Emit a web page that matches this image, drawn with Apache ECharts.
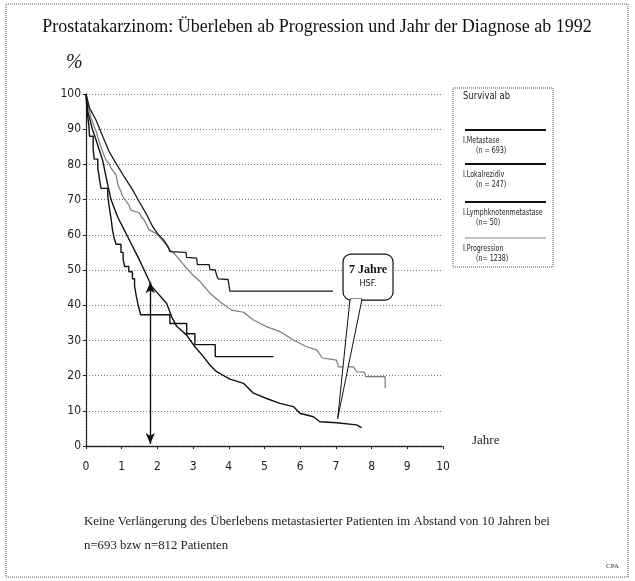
<!DOCTYPE html>
<html lang="de">
<head>
<meta charset="utf-8">
<title>Prostatakarzinom – Überleben ab Progression</title>
<script src="https://cdn.jsdelivr.net/npm/echarts@6/dist/echarts.min.js"></script>
<style>
  html, body { margin: 0; padding: 0; background: #fff; }
  #main { width: 635px; height: 581px; }
</style>
</head>
<body>
<div id="main"></div>
<script>
// Achsen
var yearTicks = [0, 1, 2, 3, 4, 5, 6, 7, 8, 9, 10];
var percentTicks = [0, 10, 20, 30, 40, 50, 60, 70, 80, 90, 100];

// Kurven [Jahre, Überleben %]
var metastaseData = [
  [0, 100], [0.05, 95], [0.18, 90], [0.28, 87], [0.47, 81], [0.56, 76.5], [0.7, 70],
  [0.89, 65], [1.07, 61.4], [1.26, 57.6], [1.45, 53.8], [1.63, 50], [1.72, 48],
  [1.84, 45.3], [2.0, 43.5], [2.26, 40.5], [2.4, 36.7], [2.54, 34], [2.82, 31.5],
  [3.05, 28.2], [3.29, 25.4], [3.47, 23], [3.66, 21.1], [3.75, 20.6], [4.03, 19],
  [4.13, 18.7], [4.41, 17.8], [4.69, 15], [5.06, 13.5], [5.43, 12.1], [5.81, 11.2],
  [5.99, 9.3], [6.37, 8.3], [6.55, 6.9], [7.02, 6.6], [7.58, 6.0], [7.72, 5.2]
];
var lokalrezidivData = [
  [0, 100], [0.1, 96], [0.28, 92.6], [0.47, 87.9], [0.65, 83.6], [0.84, 80.3],
  [1.07, 76.5], [1.31, 72.7], [1.49, 69.4], [1.68, 66.1], [1.87, 62.3], [2.0, 60.4],
  [2.18, 58.5], [2.3, 56.6], [2.35, 55.2], [2.8, 55], [2.82, 53.6], [3.1, 53.4],
  [3.12, 51.5], [3.45, 51.5], [3.47, 50.2], [3.62, 50], [3.66, 48.5], [3.7, 47.5],
  [3.98, 47.3], [4.03, 44], [6.92, 44]
];
// Stufenwerte (Zeitpunkt, Überleben ab diesem Zeitpunkt)
var lymphknotenData = [
  [0, 100], [0.03, 95], [0.08, 91], [0.1, 88], [0.2, 84.5], [0.23, 81.5], [0.33, 79],
  [0.36, 77], [0.39, 75], [0.42, 73.2], [0.61, 71], [0.65, 68], [0.68, 66], [0.71, 64],
  [0.74, 61.5], [0.79, 59], [0.84, 57.3], [0.98, 55], [1.04, 53], [1.08, 51],
  [1.2, 49.5], [1.3, 47.5], [1.36, 45.5], [1.41, 42.5], [1.45, 40.5], [1.5, 38.5],
  [1.53, 37.3], [2.35, 34.8], [2.82, 31.9], [3.05, 28.8], [3.62, 25.4], [5.25, 25.4]
];
var progressionData = [
  [0, 100], [0.05, 97], [0.15, 93], [0.28, 89.5], [0.37, 86.4], [0.47, 83.5],
  [0.56, 81.2], [0.63, 80.5], [0.7, 79], [0.84, 77], [0.9, 74], [0.97, 72.5],
  [1.03, 70.8], [1.12, 69.6], [1.2, 68.5], [1.26, 67], [1.31, 66.6], [1.5, 66.2],
  [1.55, 65], [1.63, 64.2], [1.77, 61.4], [1.96, 60.4], [2.18, 58], [2.33, 56],
  [2.47, 54.7], [2.66, 52.4], [2.82, 50.5], [3.0, 48.5], [3.19, 46.8], [3.47, 43.4],
  [3.75, 41], [4.08, 38.6], [4.41, 38], [4.69, 35.8], [5.06, 33.9], [5.43, 32.5],
  [5.81, 30.1], [6.18, 28.2], [6.46, 27.3], [6.62, 25], [7.02, 24.4], [7.07, 22.5],
  [7.49, 22.5], [7.58, 21.1], [7.8, 21], [7.83, 19.7], [8.38, 19.7], [8.38, 16.4]
];

// Legende
var legendTitle = 'Survival ab';
var legendNames = ['I.Metastase', 'I.Lokalrezidiv', 'I.Lymphknotenmetastase', 'I.Progression'];
var legendCounts = ['(n = 693)', '(n = 247)', '(n= 50)', '(n= 1238)'];

// Pfeil und Sprechblase
var arrowYear = 1.8;
var arrowRange = [46.5, 0.6];
var calloutText = ['7 Jahre', 'HSF.'];
var calloutAt = [7.9, 48];
var calloutTip = [7.05, 7.8];

var titleText = 'Prostatakarzinom: Überleben ab Progression und Jahr der Diagnose ab 1992';
var noteLines = [
  'Keine Verlängerung des Überlebens metastasierter Patienten im Abstand von 10 Jahren bei',
  'n=693 bzw n=812 Patienten'
];

var narrow = "'Liberation Sans Narrow', 'DejaVu Sans Condensed', sans-serif";
var serif = "'Liberation Serif', 'DejaVu Serif', serif";

var myChart = echarts.init(document.getElementById('main'), null, { renderer: 'canvas' });

function curve(name, data, color, width, step) {
  return {
    name: name,
    type: 'line',
    data: data,
    step: step || false,
    showSymbol: false,
    symbol: 'none',
    silent: true,
    lineStyle: { color: color, width: width },
    z: 3
  };
}

var series = [
  curve(legendNames[3], progressionData, '#7a7a7a', 1.2),
  curve(legendNames[1], lokalrezidivData, '#1a1a1a', 1.3),
  curve(legendNames[0], metastaseData, '#111', 1.4),
  curve(legendNames[2], lymphknotenData, '#111', 1.4, 'end')
];
// Doppelpfeil bei ~1,8 Jahren
series[3].markLine = {
  silent: true,
  symbol: ['arrow', 'arrow'],
  symbolSize: [7, 11],
  label: { show: false },
  lineStyle: { color: '#111', width: 1.4, type: 'solid' },
  data: [[{ coord: [arrowYear, arrowRange[0]] }, { coord: [arrowYear, arrowRange[1]] }]]
};

// Legendenkasten (feste Lage rechts)
var legendGraphic = [
  { type: 'rect', shape: { x: 453, y: 88, width: 100, height: 179 },
    style: { fill: '#fff', stroke: '#555', lineWidth: 1, lineDash: [1, 1] } },
  { type: 'text', x: 463, y: 91, scaleX: 0.85,
    style: { text: legendTitle, font: '11px ' + narrow, fill: '#222' } }
];
var lineY = [130, 164, 202, 238];
legendNames.forEach(function (n, i) {
  legendGraphic.push({ type: 'line', shape: { x1: 465, y1: lineY[i], x2: 546, y2: lineY[i] },
    style: { stroke: i === 3 ? '#888' : '#111', lineWidth: i === 3 ? 1.2 : 1.8 } });
  legendGraphic.push({ type: 'text', x: 463, y: lineY[i] + 6, scaleX: 0.78,
    style: { text: n, font: '9px ' + narrow, fill: '#222' } });
  legendGraphic.push({ type: 'text', x: 476, y: lineY[i] + 16, scaleX: 0.78,
    style: { text: legendCounts[i], font: '9px ' + narrow, fill: '#222' } });
});

var option = {
  animation: false,
  backgroundColor: '#fff',
  grid: { left: 86, right: 192, top: 94, bottom: 135, containLabel: false },
  xAxis: {
    type: 'value', min: 0, max: 10, interval: 1,
    axisLine: { onZero: false, lineStyle: { color: '#222', width: 1.3, type: [2, 1] } },
    axisTick: { show: true, length: 3, lineStyle: { color: '#222' } },
    axisLabel: { margin: 15, color: '#222', fontFamily: narrow, fontSize: 12,
      formatter: function (v) { return yearTicks.indexOf(v) >= 0 ? String(v) : ''; } },
    splitLine: { show: false }
  },
  yAxis: {
    type: 'value', min: 0, max: 100, interval: 10,
    axisLine: { show: true, lineStyle: { color: '#222', width: 1.3, type: [2, 1] } },
    axisTick: { show: true, length: 3, lineStyle: { color: '#222' } },
    axisLabel: { margin: 5, color: '#222', fontFamily: narrow, fontSize: 12,
      formatter: function (v) { return percentTicks.indexOf(v) >= 0 ? String(v) : ''; } },
    splitLine: { show: true, lineStyle: { color: '#777', width: 1, type: [1, 2] } }
  },
  series: series,
  graphic: []
};
myChart.setOption(option);

// Texte, Rahmen, Sprechblase
var box = myChart.convertToPixel({ gridIndex: 0 }, calloutAt);
var tip = myChart.convertToPixel({ gridIndex: 0 }, calloutTip);
var bw = 50, bh = 46;
var bx = box[0] - bw / 2, by = box[1] - bh / 2;
var tailL = bx + 7, tailR = bx + 19;

var graphic = [
  { type: 'rect', shape: { x: 6, y: 4, width: 622, height: 573 },
    style: { fill: 'none', stroke: '#555', lineWidth: 1, lineDash: [1, 1] }, z: 0 },
  { type: 'text', x: 317, y: 27,
    style: { text: titleText, font: '18px ' + serif, fill: '#111', align: 'center', verticalAlign: 'middle' } },
  { type: 'text', x: 66, y: 63,
    style: { text: '%', font: 'italic 20px ' + serif, fill: '#222', verticalAlign: 'middle' } },
  { type: 'text', x: 472, y: 441,
    style: { text: 'Jahre', font: '13px ' + serif, fill: '#222', verticalAlign: 'middle' } },
  { type: 'text', x: 84, y: 522,
    style: { text: noteLines[0], font: '12.8px ' + serif, fill: '#222', verticalAlign: 'middle' } },
  { type: 'text', x: 84, y: 546,
    style: { text: noteLines[1], font: '12.8px ' + serif, fill: '#222', verticalAlign: 'middle' } },
  { type: 'text', x: 606, y: 566,
    style: { text: 'CPA', font: '7px ' + serif, fill: '#333', verticalAlign: 'middle' } },
  { type: 'rect', z: 10, shape: { x: bx, y: by, width: bw, height: bh, r: 8 },
    style: { fill: '#fff', stroke: '#111', lineWidth: 1.2 } },
  { type: 'polygon', z: 11, shape: { points: [[tailL, by + bh - 1], [tip[0], tip[1]], [tailR, by + bh - 1]] },
    style: { fill: '#fff', stroke: '#111', lineWidth: 1 } },
  { type: 'line', z: 12, shape: { x1: tailL + 1, y1: by + bh, x2: tailR - 1, y2: by + bh },
    style: { stroke: '#fff', lineWidth: 2 } },
  { type: 'text', z: 13, x: box[0], y: box[1] - 7,
    style: { text: calloutText[0], font: 'bold 12px ' + serif, fill: '#111', align: 'center', verticalAlign: 'middle' } },
  { type: 'text', z: 13, x: box[0], y: box[1] + 7,
    style: { text: calloutText[1], font: '9px ' + narrow, fill: '#111', align: 'center', verticalAlign: 'middle' } }
].concat(legendGraphic);

myChart.setOption({ graphic: graphic });
</script>
</body>
</html>
